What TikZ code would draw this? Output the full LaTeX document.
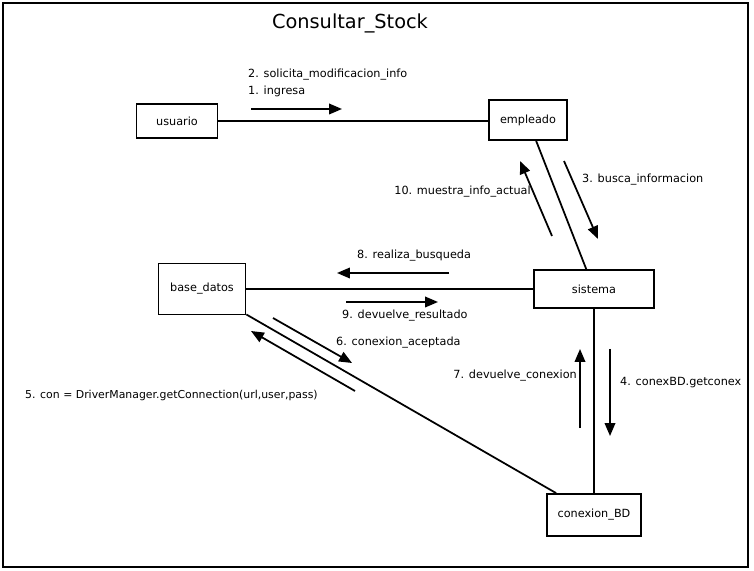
\documentclass[tikz,border=0pt]{standalone}
\usepackage{fontspec}
\setmainfont{DejaVu Sans}
\usetikzlibrary{arrows.meta}
\begin{document}
\begin{tikzpicture}[x=0.03cm, y=-0.03cm,
  every node/.style={font=\fontsize{9.6}{11}\selectfont},
  obj/.style={draw, line width=1.5pt, inner sep=0pt},
  link/.style={line width=1.5pt},
  msg/.style={line width=1.5pt, -{Triangle[length=11pt, width=9pt]}},
  lbl/.style={inner sep=0pt, anchor=west}]
  \useasboundingbox (0,0) rectangle (754,571);
  \draw[line width=1.5pt] (3,3) rectangle (748,567);
  \node[font=\fontsize{16.5}{20}\selectfont] (title) at (350,23) {Consultar\_Stock};

  % objects
  \node[obj, minimum width=81*0.03cm, minimum height=34*0.03cm] (usuario) at (177,121) {usuario};
  \node[obj, minimum width=78*0.03cm, minimum height=40*0.03cm] (empleado) at (528,120) {empleado};
  \node[obj, minimum width=87*0.03cm, minimum height=51*0.03cm] (base) at (202,289) {base\_datos};
  \node[obj, minimum width=120*0.03cm, minimum height=38*0.03cm] (sistema) at (594,289) {sistema};
  \node[obj, minimum width=94*0.03cm, minimum height=42*0.03cm] (conexion) at (594,515) {conexion\_BD};

  % links
  \draw[link] (usuario.east) -- (usuario.east -| empleado.west);
  \draw[link] (empleado) -- (sistema);
  \draw[link] (base) -- (sistema);
  \draw[link] (base) -- (conexion);
  \draw[link] (sistema) -- (conexion);

  % messages
  \draw[msg] (251,109) -- (342,109);
  \node[lbl] at (248,75) {2. solicita\_modificacion\_info};
  \node[lbl] at (248,91) {1. ingresa};

  \draw[msg] (564,161) -- (598,239);
  \node[lbl] at (582,180) {3. busca\_informacion};
  \draw[msg] (552,236) -- (520,161);
  \node[lbl, anchor=east] at (531,192) {10. muestra\_info\_actual};

  \draw[msg] (449,273) -- (337,273);
  \node[lbl] at (357,256) {8. realiza\_busqueda};
  \draw[msg] (346,302) -- (438,302);
  \node[lbl] at (342,316) {9. devuelve\_resultado};

  \draw[msg] (273,318) -- (352,363);
  \node[lbl] at (336,343) {6. conexion\_aceptada};
  \draw[msg] (355,391) -- (251,331);
  \node[lbl, font=\fontsize{9.3}{11}\selectfont] at (25,395) {5. con = DriverManager.getConnection(url,user,pass)};

  \draw[msg] (580,428) -- (580,349);
  \node[lbl, anchor=east] at (577,376) {7. devuelve\_conexion};
  \draw[msg] (610,349) -- (610,436);
  \node[lbl] at (620,383) {4. conexBD.getconex};
\end{tikzpicture}
\end{document}
